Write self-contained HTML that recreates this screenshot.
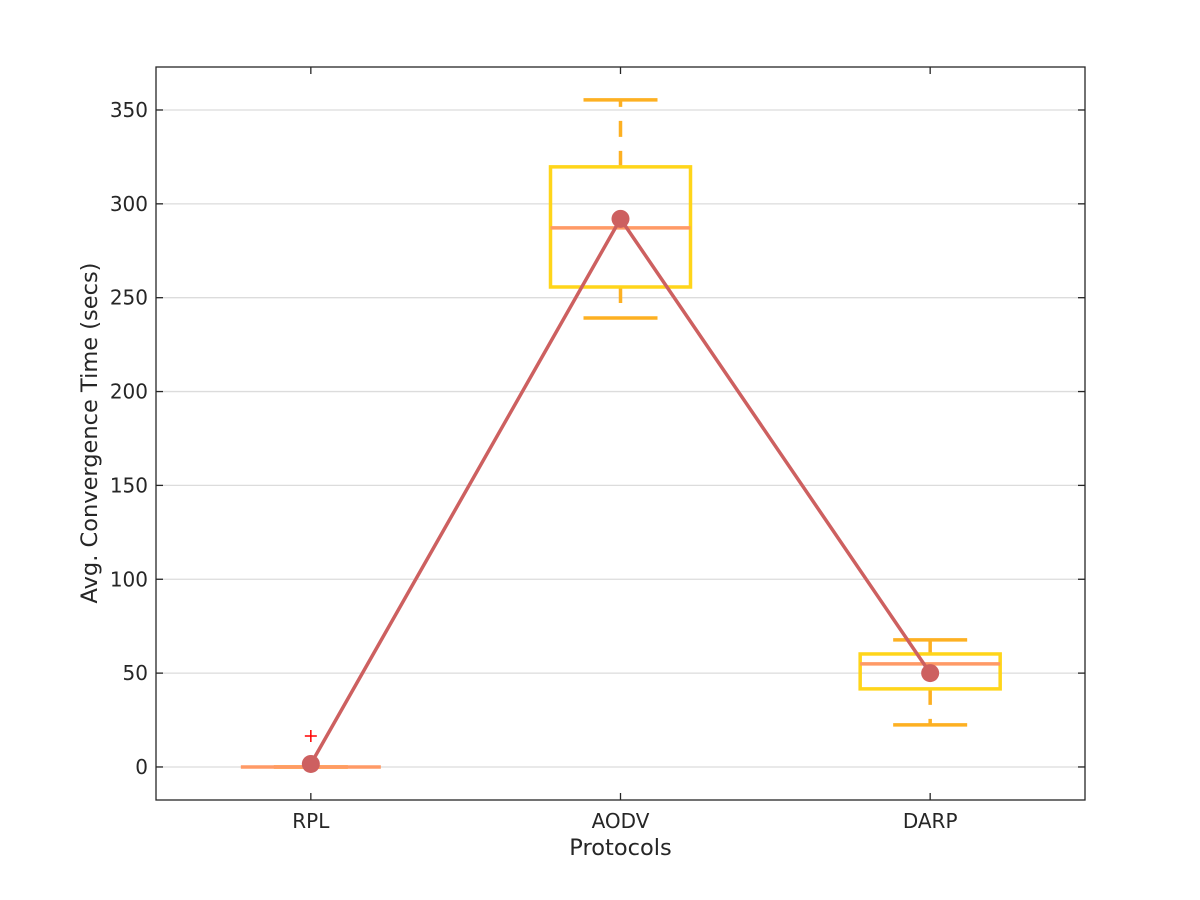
<!DOCTYPE html>
<html><head><meta charset="utf-8"><style>
body{margin:0;background:#fff}
svg{display:block;font-family:"DejaVu Sans","Liberation Sans",sans-serif}
</style></head><body>
<svg id="chart" width="1200" height="900">
<rect width="1200" height="900" fill="#fff"/>
<g id="grid"></g><g id="marks"></g><g id="axes"></g>
</svg>
<script>
const categories=["RPL","AODV","DARP"];
const q1=[0,255.7,41.6];
const q3=[0,319.7,60.2];
const medians=[0,287.2,54.9];
const whiskerLow=[0,239.2,22.4];
const whiskerHigh=[0,355.4,67.7];
const means=[1.6,292,50];
const outlierCat=[0];
const outlierVal=[16.5];
const yTicks=[0,50,100,150,200,250,300,350];

const L=156,R=1085,T=67,B=800;
const yMin=-17.6,yMax=372.9;
const X=i=>L+(i+1-0.5)/3*(R-L);
const Y=v=>B-(v-yMin)/(yMax-yMin)*(B-T);
const NS="http://www.w3.org/2000/svg";
function mk(p,tag,a){const e=document.createElementNS(NS,tag);for(const k in a)e.setAttribute(k,a[k]);p.appendChild(e);return e;}
const grid=document.getElementById('grid'),marks=document.getElementById('marks'),axes=document.getElementById('axes');
yTicks.forEach(t=>{
 const g=mk(grid,'line',{x1:L,x2:R,y1:Y(t),y2:Y(t),stroke:'#dcdcdc','stroke-width':1.3});
 
 
});
const hw=70,cw=37;
categories.forEach((c,i)=>{
 const x=X(i);
 const g=mk(marks,'g',{});
 
 
 mk(g,'line',{x1:x,x2:x,y1:Y(q3[i]),y2:Y(whiskerHigh[i]),stroke:'#FDB022','stroke-width':3.5,'stroke-dasharray':'16,14'});
 mk(g,'line',{x1:x,x2:x,y1:Y(q1[i]),y2:Y(whiskerLow[i]),stroke:'#FDB022','stroke-width':3.5,'stroke-dasharray':'16,14'});
 mk(g,'line',{x1:x-cw,x2:x+cw,y1:Y(whiskerHigh[i]),y2:Y(whiskerHigh[i]),stroke:'#FDB022','stroke-width':3.5});
 mk(g,'line',{x1:x-cw,x2:x+cw,y1:Y(whiskerLow[i]),y2:Y(whiskerLow[i]),stroke:'#FDB022','stroke-width':3.5});
 mk(g,'rect',{x:x-hw,y:Y(q3[i]),width:2*hw,height:Math.max(0,Y(q1[i])-Y(q3[i])),fill:'none',stroke:'#FFD51A','stroke-width':3.5});
 mk(g,'line',{x1:x-hw,x2:x+hw,y1:Y(medians[i]),y2:Y(medians[i]),stroke:'#FF9A66','stroke-width':3.5});
});
outlierCat.forEach((ci,k)=>{
 const x=X(ci),y=Y(outlierVal[k]);
 const p=mk(marks,'path',{d:`M${x-6} ${y}H${x+6}M${x} ${y-6}V${y+6}`,stroke:'#ff0000','stroke-width':1.5});
 
 
});
const ln=mk(marks,'polyline',{points:means.map((m,i)=>X(i)+','+Y(m)).join(' '),fill:'none',stroke:'#CD6060','stroke-width':3.5});


means.forEach((m,i)=>{
 const c=mk(marks,'circle',{cx:X(i),cy:Y(m),r:9,fill:'#CD6060'});
 
 
});
const fr=mk(axes,'rect',{x:L,y:T,width:R-L,height:B-T,fill:'none',stroke:'#262626','stroke-width':1.3});


yTicks.forEach(t=>{
 const y=Y(t);
 mk(axes,'line',{x1:L,x2:L+7,y1:y,y2:y,stroke:'#262626','stroke-width':1.3});
 mk(axes,'line',{x1:R,x2:R-7,y1:y,y2:y,stroke:'#262626','stroke-width':1.3});
 const tx=mk(axes,'text',{x:L-8,y:y+7,'text-anchor':'end','font-size':20,fill:'#262626'});
 tx.textContent=t;
 
 
});
categories.forEach((c,i)=>{
 const x=X(i);
 mk(axes,'line',{x1:x,x2:x,y1:B,y2:B-7,stroke:'#262626','stroke-width':1.3});
 mk(axes,'line',{x1:x,x2:x,y1:T,y2:T+7,stroke:'#262626','stroke-width':1.3});
 const tx=mk(axes,'text',{x:x,y:828,'text-anchor':'middle','font-size':20,fill:'#262626'});
 tx.textContent=c;
 
 
});
const xt=mk(axes,'text',{x:(L+R)/2,y:855,'text-anchor':'middle','font-size':22.5,fill:'#262626'});
xt.textContent='Protocols';


const yt=mk(axes,'text',{x:0,y:0,transform:'translate(97,433) rotate(-90)','text-anchor':'middle','font-size':22.5,fill:'#262626'});
yt.textContent='Avg. Convergence Time (secs)';


</script>
</body></html>
